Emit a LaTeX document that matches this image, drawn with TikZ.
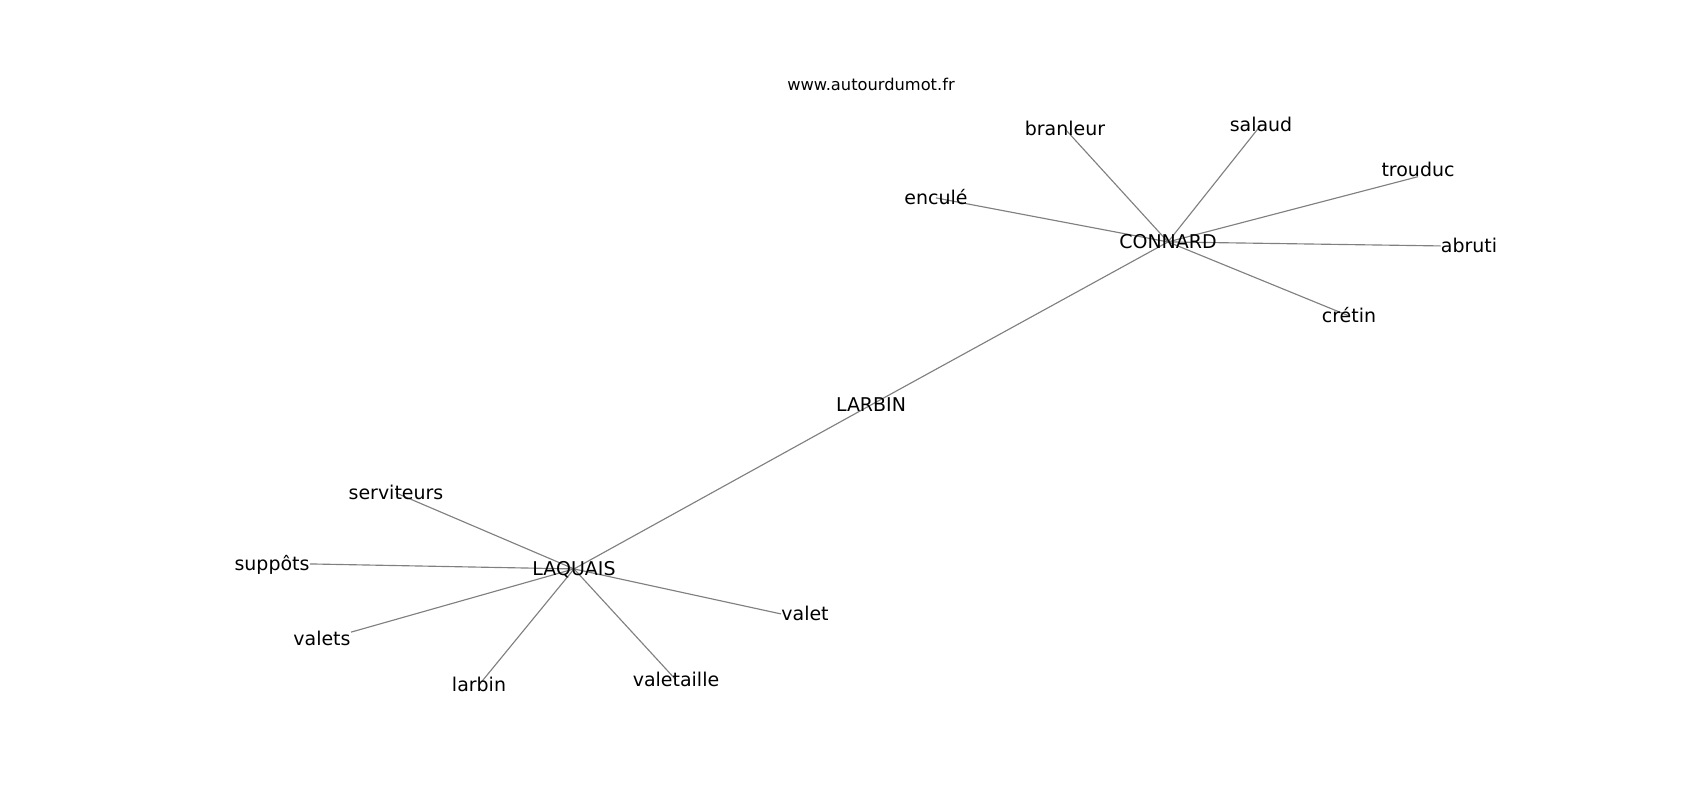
\documentclass[tikz,border=0pt]{standalone}
\usepackage{fontspec}
\setmainfont{DejaVu Sans}
\usetikzlibrary{backgrounds}
\tikzset{
  word/.style = {inner sep=0pt, text height=0.73em, text depth=0pt, yshift=-1.1pt, font=\fontsize{10.8}{13}\selectfont},
  hub/.style = {word},
  site/.style = {inner sep=0pt, yshift=-0.6pt, font=\fontsize{9.26}{11}\selectfont},
  link/.style = {draw=gray, line width=0.65pt},
}
\begin{document}
\begin{tikzpicture}[x=0.02cm, y=-0.02cm]
  \useasboundingbox (0,0) rectangle (1700,800);
  \node [site] (site) at (871,83) {www.autourdumot.fr};
  % centre
  \node [hub] (LARBIN) at (871,403) {LARBIN};
  \node [hub] (connard) at (1168,240) {CONNARD};
  \node [hub] (laquais) at (574,567) {LAQUAIS};
  % autour de CONNARD
  \node [word] (branleur) at (1065,127) {branleur};
  \node [word] (salaud) at (1261,123) {salaud};
  \node [word] (trouduc) at (1418,168) {trouduc};
  \node [word] (encule) at (936,196) {enculé};
  \node [word] (abruti) at (1469,244) {abruti};
  \node [word] (cretin) at (1349,314) {crétin};
  % autour de LAQUAIS
  \node [word] (serviteurs) at (396,491) {serviteurs};
  \node [word] (suppots) at (272,562) {suppôts};
  \node [word] (valets) at (322,637) {valets};
  \node [word] (larbin) at (479,683) {larbin};
  \node [word] (valetaille) at (676,678) {valetaille};
  \node [word] (valet) at (805,612) {valet};
  \begin{scope}[on background layer]
    \draw [link] (connard.center) -- (LARBIN.center) -- (laquais.center);
    \foreach \w in {branleur, salaud, encule, cretin}
      \draw [link] (connard.center) -- (\w.center);
    \draw [link] (connard.center) -- (trouduc.south);
    \draw [link] (connard.center) -- (abruti.west);
    \foreach \w in {serviteurs, larbin, valetaille}
      \draw [link] (laquais.center) -- (\w.center);
    \draw [link] (laquais.center) -- (suppots.east);
    \draw [link] (laquais.center) -- (valets.north east);
    \draw [link] (laquais.center) -- (valet.west);
  \end{scope}
\end{tikzpicture}
\end{document}
